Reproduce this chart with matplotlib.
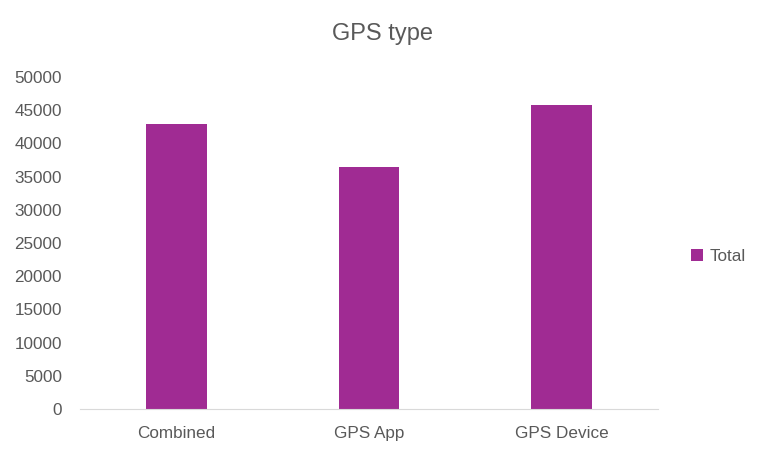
import matplotlib.pyplot as plt

categories = ["Combined", "GPS App", "GPS Device"]
totals = [42900, 36400, 45800]
y_ticks = list(range(0, 50001, 5000))

bar_color = "#A02B93"
text_color = "#595959"

plt.rcParams["font.family"] = ["Liberation Sans", "DejaVu Sans"]

fig = plt.figure(figsize=(7.65, 4.58), dpi=100)
ax = fig.add_axes([0.1046, 0.107, 0.7554, 0.725])

x = range(len(categories))
ax.bar(x, totals, width=0.315, color=bar_color, label="Total")

ax.set_xlim(-0.5, 2.5)
ax.set_ylim(0, 50000)
ax.set_yticks(y_ticks)
ax.set_yticklabels([str(v) for v in y_ticks], color=text_color, fontsize=12.3)
ax.set_xticks(list(x))
ax.set_xticklabels(categories, color=text_color, fontsize=12.3)

for side in ["top", "right", "left"]:
    ax.spines[side].set_visible(False)
ax.spines["bottom"].set_color("#D9D9D9")
ax.tick_params(axis="x", length=0, pad=12)
ax.tick_params(axis="y", length=0, pad=13)

fig.text(0.5, 0.925, "GPS type", ha="center", va="center", fontsize=17, color=text_color)

leg = fig.legend(loc="center left", bbox_to_anchor=(0.903, 0.44), frameon=False,
                 fontsize=12.3, handlelength=0.7, handleheight=0.7, handletextpad=0.4,
                 borderaxespad=0, borderpad=0)
for t in leg.get_texts():
    t.set_color(text_color)

fig.savefig("out.png", dpi=100)
